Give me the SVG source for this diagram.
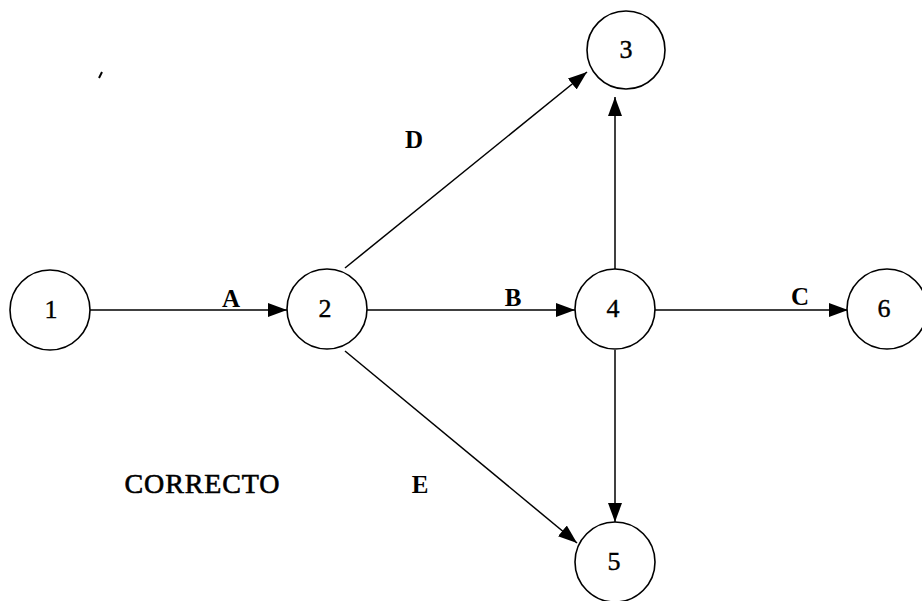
<svg xmlns="http://www.w3.org/2000/svg" width="922" height="601" viewBox="0 0 922 601">
<defs>
<marker id="arr" markerUnits="userSpaceOnUse" markerWidth="20" markerHeight="14" refX="19" refY="7" orient="auto">
<path d="M0,0 L19,7 L0,14 z" fill="#000"/>
</marker>
<style>
.node circle{fill:#fff;stroke:#000;stroke-width:1.6}
.node text{font-family:"Liberation Serif","Times New Roman",serif;font-size:26px;text-anchor:middle;fill:#000;stroke:#000;stroke-width:0.4}
.edges line{stroke:#000;stroke-width:1.5;marker-end:url(#arr)}
.lbl{font-family:"Liberation Serif","Times New Roman",serif;font-size:25px;font-weight:bold;text-anchor:middle;fill:#000}
.title{font-family:"Liberation Serif","Times New Roman",serif;font-size:28px;text-anchor:middle;fill:#000;stroke:#000;stroke-width:0.6}
</style>
</defs>
<rect width="922" height="601" fill="#fff"/>
<g id="connectors" class="edges">
<line id="eA" x1="90" y1="310" x2="287" y2="310"/>
<line id="eB" x1="367" y1="310" x2="575" y2="310"/>
<line id="eC" x1="655" y1="310" x2="848" y2="310"/>
<line id="eD" x1="345" y1="268" x2="587" y2="72"/>
<line id="eE" x1="345" y1="351" x2="577" y2="543"/>
<line id="e43" x1="615" y1="269" x2="615" y2="97"/>
<line id="e45" x1="615" y1="350" x2="615" y2="522"/>
</g>
<g id="n1" class="node"><circle cx="50" cy="310" r="40"/><text x="51" y="318">1</text></g>
<g id="n2" class="node"><circle cx="327" cy="309" r="40"/><text x="325" y="317">2</text></g>
<g id="n3" class="node"><circle cx="626" cy="50" r="39"/><text x="626" y="58">3</text></g>
<g id="n4" class="node"><circle cx="615" cy="309" r="40"/><text x="613" y="317">4</text></g>
<g id="n5" class="node"><circle cx="615" cy="562" r="40"/><text x="614" y="570">5</text></g>
<g id="n6" class="node"><circle cx="887" cy="309" r="40"/><text x="884" y="317">6</text></g>
<g id="labels">
<text class="lbl" x="231" y="307">A</text>
<text class="lbl" x="513" y="306">B</text>
<text class="lbl" x="800" y="305">C</text>
<text class="lbl" x="414" y="148">D</text>
<text class="lbl" x="420" y="493">E</text>
<text class="title" x="202" y="493" textLength="155" lengthAdjust="spacing">CORRECTO</text>
</g>
<path d="M99,78 L102,72" stroke="#000" stroke-width="2" fill="none"/>
</svg>
